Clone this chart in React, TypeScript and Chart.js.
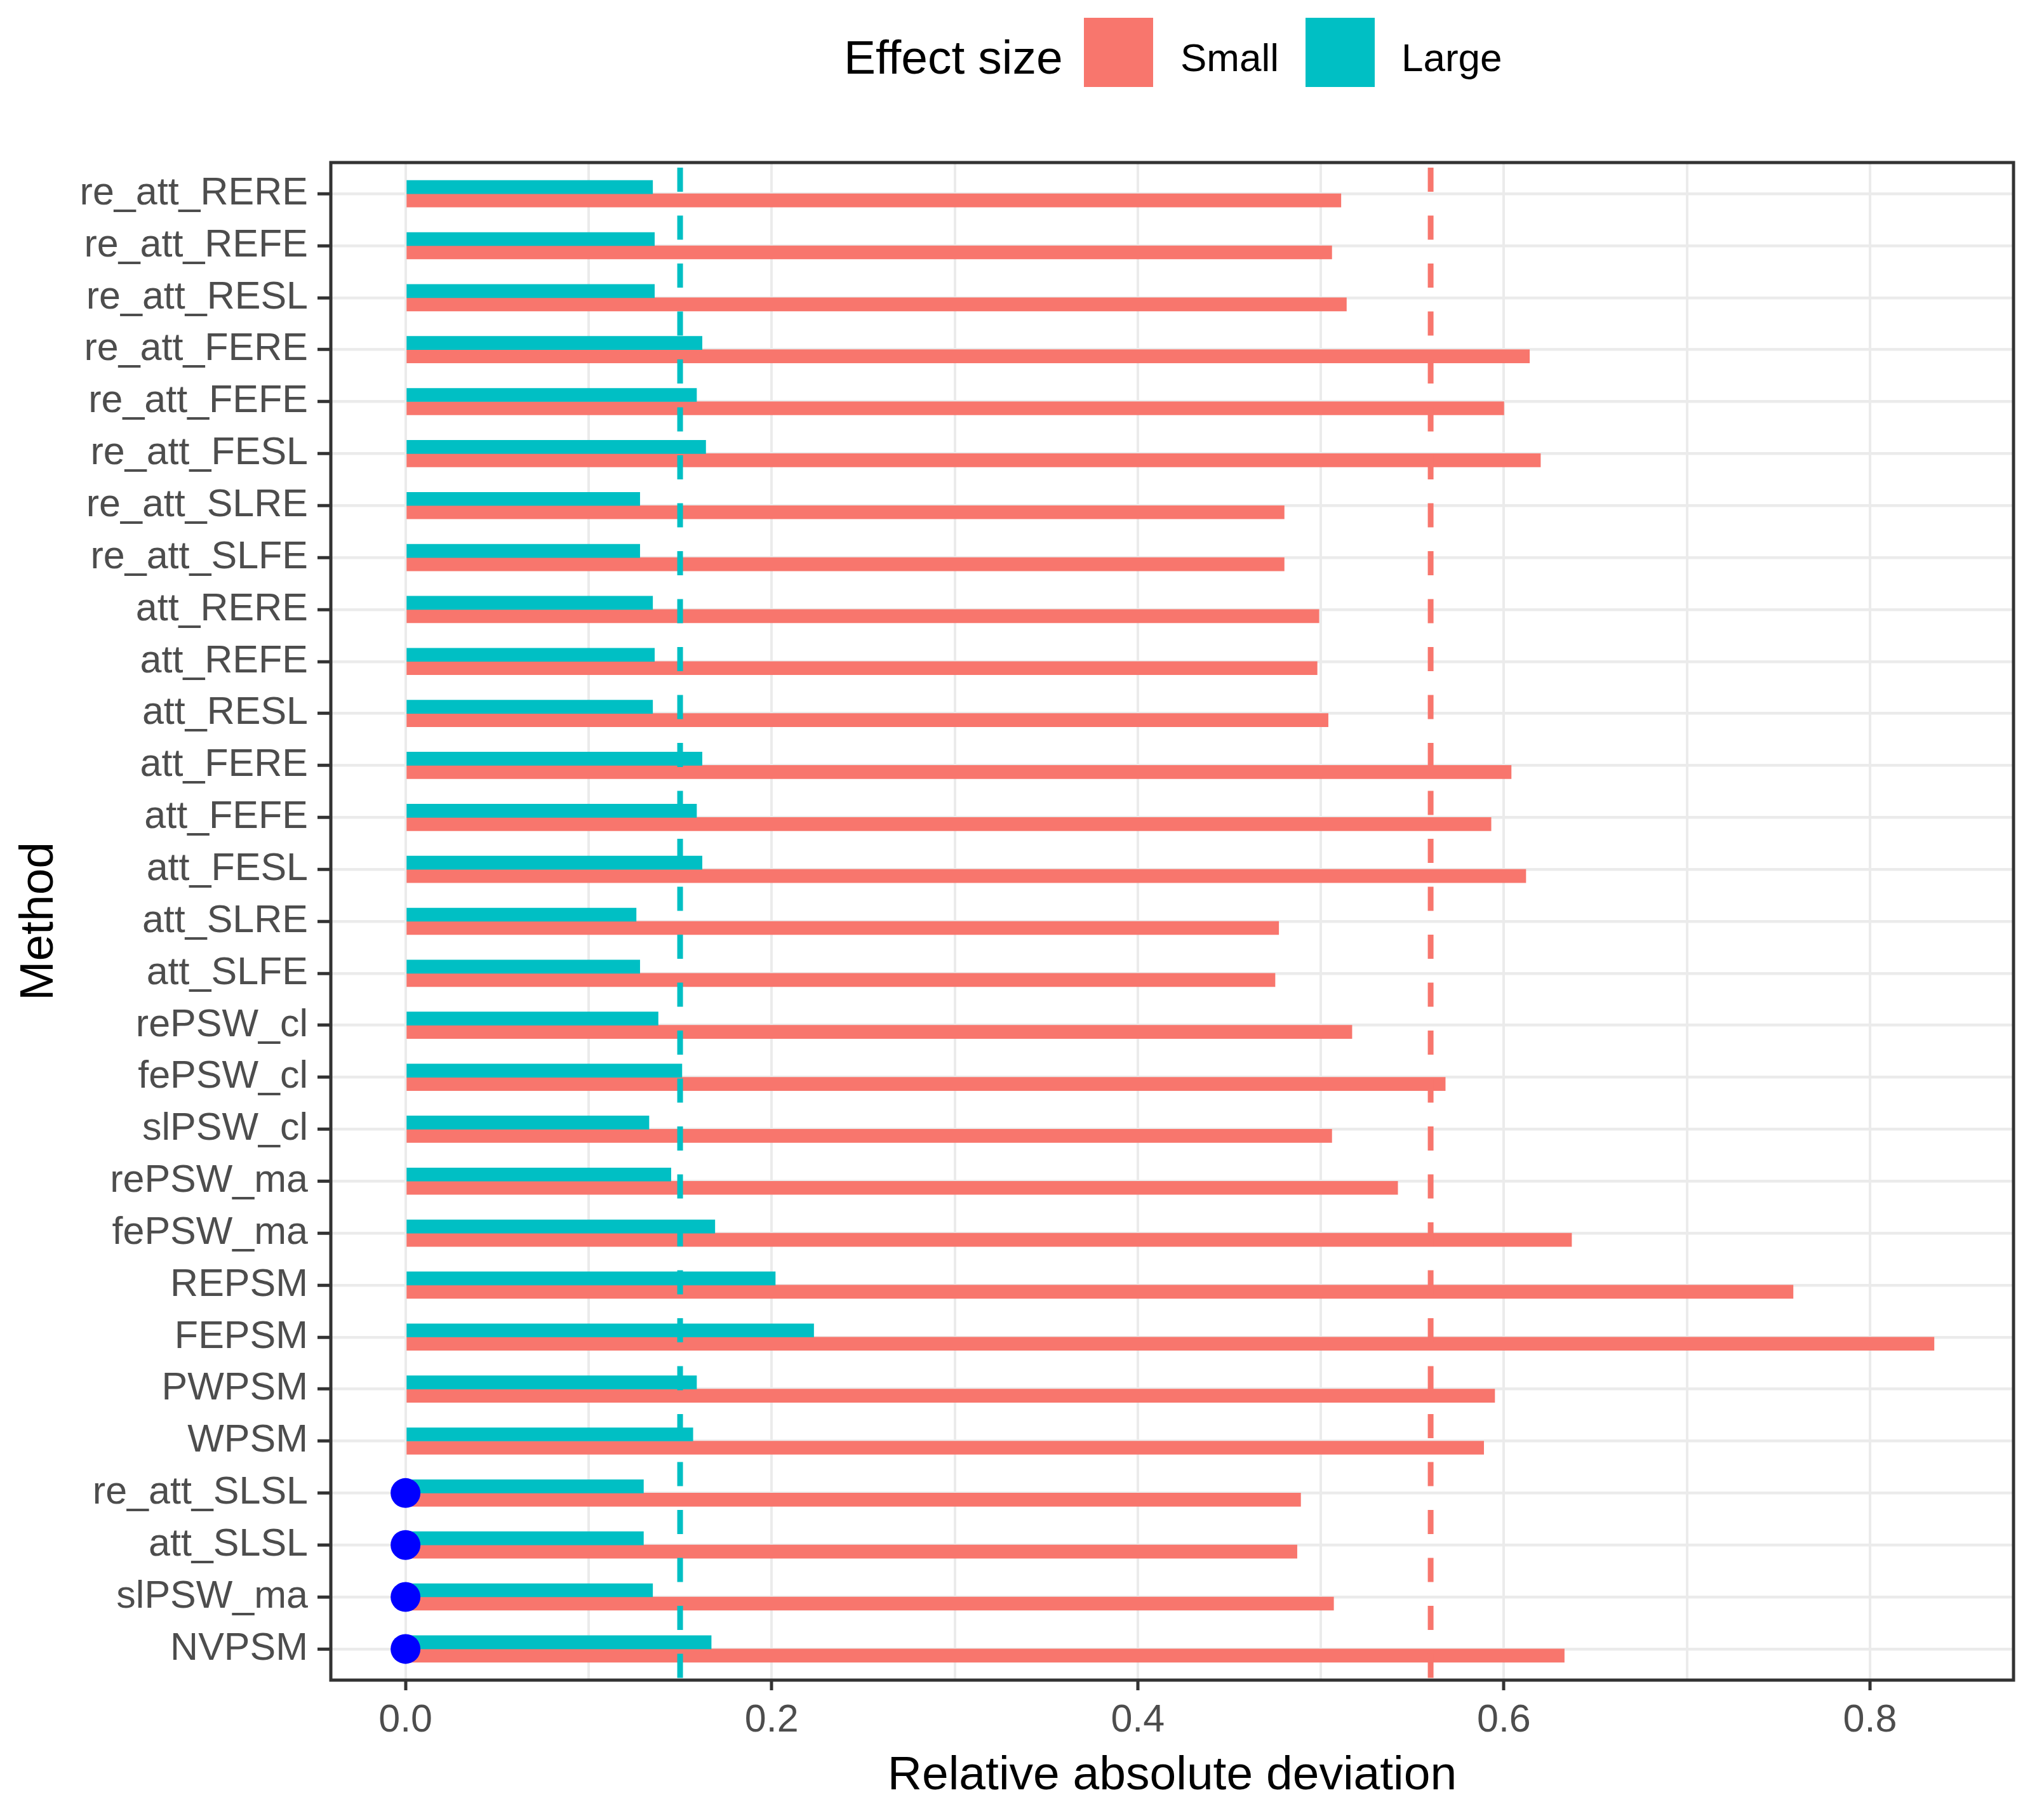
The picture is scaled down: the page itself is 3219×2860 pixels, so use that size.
import { useEffect, useRef } from 'react';
import Chart from 'chart.js/auto';

const METHODS = [
  're_att_RERE', 're_att_REFE', 're_att_RESL', 're_att_FERE', 're_att_FEFE', 're_att_FESL',
  're_att_SLRE', 're_att_SLFE', 'att_RERE', 'att_REFE', 'att_RESL', 'att_FERE', 'att_FEFE',
  'att_FESL', 'att_SLRE', 'att_SLFE', 'rePSW_cl', 'fePSW_cl', 'slPSW_cl', 'rePSW_ma',
  'fePSW_ma', 'REPSM', 'FEPSM', 'PWPSM', 'WPSM', 're_att_SLSL', 'att_SLSL', 'slPSW_ma', 'NVPSM'
];

// Effect size = Small
const SMALL = [
  0.511, 0.506, 0.514, 0.614, 0.600, 0.620, 0.480, 0.480, 0.499, 0.498, 0.504, 0.604, 0.593,
  0.612, 0.477, 0.475, 0.517, 0.568, 0.506, 0.542, 0.637, 0.758, 0.835, 0.595, 0.589, 0.489,
  0.487, 0.507, 0.633
];

// Effect size = Large
const LARGE = [
  0.135, 0.136, 0.136, 0.162, 0.159, 0.164, 0.128, 0.128, 0.135, 0.136, 0.135, 0.162, 0.159,
  0.162, 0.126, 0.128, 0.138, 0.151, 0.133, 0.145, 0.169, 0.202, 0.223, 0.159, 0.157, 0.130,
  0.130, 0.135, 0.167
];

// methods marked with a point at zero
const FLAGGED = ['re_att_SLSL', 'att_SLSL', 'slPSW_ma', 'NVPSM'];

const REF_SMALL = 0.56;
const REF_LARGE = 0.15;

const X_MAJOR = [0, 0.2, 0.4, 0.6, 0.8];
const X_MINOR = [0.1, 0.3, 0.5, 0.7];

const RED = '#F8766D';
const TEAL = '#00BFC4';
const FONT = "'Liberation Sans', Arial, sans-serif";

const panelPlugin = {
  id: 'panel',
  afterDatasetsDraw(chart: Chart) {
    const { ctx, chartArea: a } = chart;
    const x = chart.scales.x;
    ctx.save();
    ctx.lineWidth = 9;
    ctx.lineCap = 'butt';
    ctx.setLineDash([38, 37.5]);
    const refs: [number, string][] = [[REF_LARGE, TEAL], [REF_SMALL, RED]];
    refs.forEach(([v, c]) => {
      const px = x.getPixelForValue(v);
      ctx.strokeStyle = c;
      ctx.beginPath();
      ctx.moveTo(px, a.top + 8);
      ctx.lineTo(px, a.bottom);
      ctx.stroke();
    });
    ctx.setLineDash([]);
    ctx.strokeStyle = '#333333';
    ctx.lineWidth = 5;
    ctx.strokeRect(a.left, a.top, a.right - a.left, a.bottom - a.top);
    ctx.restore();
  }
};

function LegendText({ text, left, top, size }: { text: string; left: number; top: number; size: number }) {
  return (
    <span
      style={{
        position: 'absolute', left, top, fontSize: size, lineHeight: 1,
        fontFamily: FONT, color: '#000', whiteSpace: 'nowrap'
      }}
    >
      {text}
    </span>
  );
}

function LegendKey({ left, color }: { left: number; color: string }) {
  return <div style={{ position: 'absolute', left, top: 28, width: 109, height: 109, background: color }} />;
}

export default function App() {
  const canvasRef = useRef<HTMLCanvasElement | null>(null);

  useEffect(() => {
    if (!canvasRef.current) return;

    const ticksX = [...X_MAJOR, ...X_MINOR].sort((p, q) => p - q);

    const chart = new Chart(canvasRef.current, {
      type: 'bar',
      data: {
        datasets: [
          {
            type: 'scatter',
            label: 'flag',
            data: FLAGGED.map(m => ({ x: 0, y: METHODS.indexOf(m) })),
            backgroundColor: '#0000FF',
            borderWidth: 0,
            radius: 23.5,
            pointStyle: 'circle',
            order: 0
          } as any,
          {
            label: 'Large',
            data: LARGE.map((v, i) => ({ x: v, y: i })),
            backgroundColor: TEAL,
            borderWidth: 0,
            barThickness: 21,
            order: 1
          },
          {
            label: 'Small',
            data: SMALL.map((v, i) => ({ x: v, y: i })),
            backgroundColor: RED,
            borderWidth: 0,
            barThickness: 21,
            order: 1
          }
        ]
      },
      options: {
        indexAxis: 'y',
        responsive: false,
        animation: false,
        events: [],
        layout: { padding: { left: 0, right: 48, top: 256, bottom: 0 } },
        scales: {
          x: {
            type: 'linear',
            min: -0.0408,
            max: 0.8784,
            bounds: 'data',
            afterBuildTicks: (s: any) => { s.ticks = ticksX.map(v => ({ value: v })); },
            afterFit: (s: any) => { s.height = 214; },
            border: { display: false },
            grid: {
              color: '#EBEBEB',
              lineWidth: 4,
              tickLength: 16,
              tickWidth: 5,
              tickColor: (c: any) => (X_MAJOR.includes(c.tick?.value) ? '#333333' : 'rgba(0,0,0,0)')
            },
            ticks: {
              autoSkip: false,
              maxRotation: 0,
              padding: 12,
              color: '#4D4D4D',
              font: { family: FONT, size: 61 },
              callback: (v: any) => (X_MAJOR.includes(v) ? Number(v).toFixed(1) : '')
            },
            title: {
              display: true,
              text: 'Relative absolute deviation',
              color: '#000000',
              font: { family: FONT, size: 75 },
              padding: { top: 0, bottom: 18 }
            }
          },
          y: {
            type: 'linear',
            reverse: true,
            min: -0.6,
            max: METHODS.length - 1 + 0.6,
            bounds: 'data',
            offset: false,
            afterBuildTicks: (s: any) => { s.ticks = METHODS.map((_, i) => ({ value: i })); },
            afterFit: (s: any) => { s.width = 521; },
            border: { display: false },
            grid: {
              offset: false,
              color: '#EBEBEB',
              lineWidth: 4.5,
              tickLength: 21,
              tickWidth: 5,
              tickColor: '#333333'
            },
            ticks: {
              autoSkip: false,
              padding: 15,
              color: '#4D4D4D',
              font: { family: FONT, size: 61 },
              callback: (v: any) => METHODS[v]
            },
            title: {
              display: true,
              text: 'Method',
              color: '#000000',
              font: { family: FONT, size: 75 },
              padding: { top: 17, bottom: 0 }
            }
          }
        },
        plugins: {
          legend: { display: false },
          tooltip: { enabled: false }
        }
      },
      plugins: [panelPlugin]
    });

    return () => {
      chart.destroy();
    };
  }, []);

  return (
    <div style={{ position: 'absolute', left: 0, top: 0, width: 3219, height: 2860, background: '#ffffff' }}>
      <LegendText text="Effect size" left={1329} top={53} size={75} />
      <LegendKey left={1707} color={RED} />
      <LegendText text="Small" left={1859} top={60} size={62} />
      <LegendKey left={2056} color={TEAL} />
      <LegendText text="Large" left={2207} top={60} size={62} />
      <canvas
        ref={canvasRef}
        width={3219}
        height={2860}
        style={{ position: 'absolute', left: 0, top: 0 }}
        aria-label="Relative absolute deviation by method and effect size"
      />
    </div>
  );
}
